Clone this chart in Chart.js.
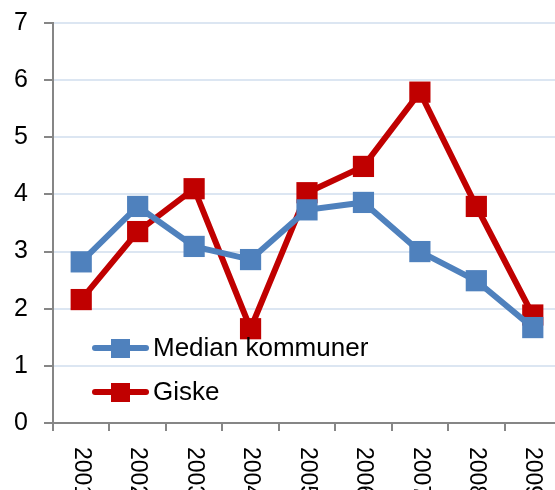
<!DOCTYPE html>
<html>
<head>
<meta charset="utf-8">
<script src="https://cdn.jsdelivr.net/npm/chart.js@4"></script>
<style>
  html, body { margin: 0; padding: 0; background: #fff; overflow: hidden; }
  #wrap { width: 565px; height: 490px; }
</style>
</head>
<body>
<div id="wrap"><canvas id="chart" width="565" height="490"></canvas></div>
<script>
const years = ["2001", "2002", "2003", "2004", "2005", "2006", "2007", "2008", "2009"];
const medianKommuner = [2.82, 3.79, 3.09, 2.86, 3.73, 3.86, 3.0, 2.49, 1.67];
const giske = [2.16, 3.35, 4.1, 1.65, 4.03, 4.49, 5.79, 3.79, 1.89];
const seriesNames = ["Median kommuner", "Giske"];
const seriesColors = ["#4F81BD", "#C00000"];

const fontFamily = "'Liberation Sans', Arial, sans-serif";

// x labels read top-to-bottom, so draw them by hand
const rotatedXLabels = {
  id: "rotatedXLabels",
  afterDraw(chart) {
    const ctx = chart.ctx;
    const xScale = chart.scales.x;
    ctx.save();
    ctx.fillStyle = "#000";
    ctx.font = "23px " + fontFamily;
    ctx.textAlign = "left";
    ctx.textBaseline = "middle";
    years.forEach((label, i) => {
      const x = xScale.getPixelForValue(i);
      ctx.save();
      ctx.translate(x, xScale.top + 24);
      ctx.rotate(Math.PI / 2);
      ctx.fillText(label, 0, 0);
      ctx.restore();
    });
    ctx.restore();
  }
};

// legend inside the plot, bottom left
const innerLegend = {
  id: "innerLegend",
  afterDraw(chart) {
    const ctx = chart.ctx;
    ctx.save();
    ctx.font = "26px " + fontFamily;
    ctx.textBaseline = "middle";
    chart.data.datasets.forEach((ds, i) => {
      const y = 348 + i * 44;
      ctx.strokeStyle = ds.borderColor;
      ctx.lineWidth = 6;
      ctx.lineCap = "round";
      ctx.beginPath();
      ctx.moveTo(95, y);
      ctx.lineTo(146, y);
      ctx.stroke();
      ctx.fillStyle = ds.borderColor;
      ctx.fillRect(111, y - 9, 19, 19);
      ctx.fillStyle = "#000";
      ctx.fillText(ds.label, 153, y + 1);
    });
    ctx.restore();
  }
};

new Chart(document.getElementById("chart"), {
  type: "line",
  data: {
    labels: years,
    datasets: [
      {
        label: seriesNames[0],
        data: medianKommuner,
        borderColor: seriesColors[0],
        backgroundColor: seriesColors[0],
        borderWidth: 6,
        pointStyle: "rect",
        pointRadius: 15,
        pointBorderWidth: 0,
        pointHoverRadius: 15,
        tension: 0
      },
      {
        label: seriesNames[1],
        data: giske,
        borderColor: seriesColors[1],
        backgroundColor: seriesColors[1],
        borderWidth: 6,
        pointStyle: "rect",
        pointRadius: 15,
        pointBorderWidth: 0,
        pointHoverRadius: 15,
        tension: 0
      }
    ]
  },
  options: {
    responsive: false,
    animation: false,
    layout: { autoPadding: false, padding: { top: 23, right: 4, left: 0, bottom: 0 } },
    plugins: {
      legend: { display: false },
      tooltip: { enabled: false }
    },
    scales: {
      x: {
        offset: true,
        grid: {
          offset: true,
          drawOnChartArea: false,
          drawTicks: true,
          tickLength: 8,
          tickColor: "#868686",
          lineWidth: 2
        },
        border: { color: "#868686", width: 2 },
        ticks: { display: false },
        afterFit(scale) { scale.height = 67; }
      },
      y: {
        min: 0,
        max: 7,
        ticks: {
          stepSize: 1,
          color: "#000",
          font: { size: 25, family: fontFamily },
          padding: 16
        },
        grid: {
          color: "#DCE6F2",
          lineWidth: 2,
          tickLength: 9,
          tickColor: "#868686"
        },
        border: { color: "#868686", width: 2 },
        afterFit(scale) {
          scale.width = 53;
          scale.paddingTop = 0;
          scale.paddingBottom = 0;
        }
      }
    }
  },
  plugins: [rotatedXLabels, innerLegend]
});
</script>
</body>
</html>
